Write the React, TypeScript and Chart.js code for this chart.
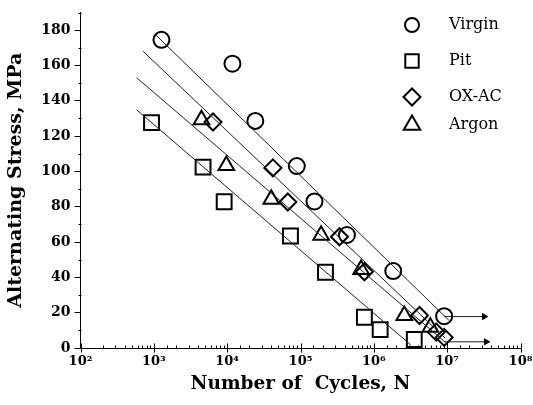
import React, { useEffect, useRef } from "react";
import { Chart, registerables } from "chart.js";
import { drawPoint } from "chart.js/helpers";

Chart.register(...registerables);

// ---- data ----
const virginX = [1270, 11800, 24200, 89000, 155000, 430000, 1840000, 9100000];
const virginY = [174.5, 161, 128.6, 103, 83, 64, 43.6, 18];

const pitX = [930, 4690, 9100, 73000, 219000, 743000, 1220000, 3560000];
const pitY = [127.6, 102.4, 82.8, 63.4, 42.9, 17.4, 10.4, 4.8];

const oxacX = [6410, 42000, 67200, 340000, 743000, 4200000, 7100000, 9100000];
const oxacY = [128, 102, 82.7, 63, 43.2, 18.4, 9, 6];

const argonX = [4460, 9750, 39900, 191000, 670000, 2600000, 5900000];
const argonY = [129.3, 103.3, 84.3, 63.9, 44.4, 18.4, 11.7];

// fitted lines (end points)
const fitVirginX = [1064, 10600000];
const fitVirginY = [177.3, 15.6];
const fitOxacX = [715, 9400000];
const fitOxacY = [168, 5.6];
const fitArgonX = [582, 9400000];
const fitArgonY = [153.1, 3.3];
const fitPitX = [582, 3200000];
const fitPitY = [134.9, 1.7];

// run-out arrows
const arrowUpperX = [9100000, 32000000];
const arrowUpperY = [17.8, 17.8];
const arrowLowerX = [9100000, 34000000];
const arrowLowerY = [3.5, 3.5];

// axes
const xTickValues = [1e2, 1e3, 1e4, 1e5, 1e6, 1e7, 1e8];
const xTickLabels = ["10\u00b2", "10\u00b3", "10\u2074", "10\u2075", "10\u2076", "10\u2077", "10\u2078"];
const yTickValues = [0, 20, 40, 60, 80, 100, 120, 140, 160, 180];
const yMinorValues = [10, 30, 50, 70, 90, 110, 130, 150, 170, 190];

const seriesLabels = ["Virgin", "Pit", "OX-AC", "Argon"];
const xTitle = "Number of  Cycles, N";
const yTitle = "Alternating Stress, MPa";

const SERIF = "'DejaVu Serif', serif";

const pts = (xs: number[], ys: number[]) => xs.map((x, i) => ({ x, y: ys[i] }));

const isDecade = (v: number) => {
  const l = Math.log10(v);
  return Math.abs(l - Math.round(l)) < 1e-6;
};

const axisTicksPlugin = {
  id: "axisTicks",
  afterDraw(chart: any) {
    const { ctx, chartArea } = chart;
    const xs = chart.scales.x;
    const ys = chart.scales.y;
    ctx.save();
    ctx.strokeStyle = "#000";
    ctx.lineWidth = 1;
    ctx.beginPath();
    const by = Math.round(chartArea.bottom) + 0.5;
    for (const t of xs.ticks) {
      const px = Math.round(xs.getPixelForValue(t.value)) + 0.5;
      const major = isDecade(t.value);
      ctx.moveTo(px, major ? by + 4 : by);
      ctx.lineTo(px, major ? by - 5 : by - 3);
    }
    const lx = Math.round(chartArea.left) + 0.5;
    for (const v of yMinorValues) {
      const py = Math.round(ys.getPixelForValue(v)) + 0.5;
      ctx.moveTo(lx, py);
      ctx.lineTo(lx - 3, py);
    }
    ctx.stroke();
    ctx.restore();
  },
};

const LEGEND_MARK_X = 412;
const LEGEND_TEXT_X = 449;
const LEGEND_Y = [25, 61, 97, 125];

const legendPlugin = {
  id: "sketchLegend",
  afterDraw(chart: any) {
    const { ctx } = chart;
    const items = chart.data.datasets.filter((d: any) => d.inLegend);
    ctx.save();
    items.forEach((d: any, i: number) => {
      const y = LEGEND_Y[i];
      ctx.strokeStyle = "#000";
      ctx.fillStyle = "rgba(0,0,0,0)";
      ctx.lineWidth = 2;
      drawPoint(
        ctx,
        { pointStyle: d.pointStyle, radius: d.legendRadius, rotation: 0, borderWidth: 2 },
        LEGEND_MARK_X,
        y
      );
      ctx.fillStyle = "#000";
      ctx.font = `16px ${SERIF}`;
      ctx.textBaseline = "middle";
      ctx.textAlign = "left";
      ctx.fillText(d.label, LEGEND_TEXT_X, y);
    });
    ctx.restore();
  },
};

const markerDataset = (label: string, xs: number[], ys: number[], style: string, r: number, lr: number) => ({
  label,
  data: pts(xs, ys),
  pointStyle: style,
  pointRadius: r,
  legendRadius: lr,
  inLegend: true,
  pointBorderWidth: 2,
  pointBorderColor: "#000",
  pointBackgroundColor: "rgba(0,0,0,0)",
  showLine: false,
});

const lineDataset = (xs: number[], ys: number[]) => ({
  label: "fit",
  data: pts(xs, ys),
  showLine: true,
  borderColor: "#222",
  borderWidth: 1,
  pointRadius: 0,
});

const arrowDataset = (xs: number[], ys: number[]) => ({
  label: "arrow",
  data: pts(xs, ys),
  showLine: true,
  borderColor: "#222",
  borderWidth: 1,
  pointStyle: "triangle",
  pointRotation: 90,
  pointRadius: [0, 3.5],
  pointBorderWidth: 1,
  pointBorderColor: "#000",
  pointBackgroundColor: "#000",
});

export default function App() {
  const ref = useRef<HTMLCanvasElement>(null);

  useEffect(() => {
    const canvas = ref.current;
    if (!canvas) return;
    const chart = new Chart(canvas, {
      type: "scatter",
      data: {
        datasets: [
          lineDataset(fitVirginX, fitVirginY),
          lineDataset(fitOxacX, fitOxacY),
          lineDataset(fitArgonX, fitArgonY),
          lineDataset(fitPitX, fitPitY),
          arrowDataset(arrowUpperX, arrowUpperY),
          arrowDataset(arrowLowerX, arrowLowerY),
          markerDataset(seriesLabels[0], virginX, virginY, "circle", 8, 7),
          markerDataset(seriesLabels[1], pitX, pitY, "rect", 10.5, 9.5),
          markerDataset(seriesLabels[2], oxacX, oxacY, "rectRot", 8.5, 8.5),
          markerDataset(seriesLabels[3], argonX, argonY, "triangle", 9, 9.5),
        ] as any,
      },
      options: {
        responsive: false,
        animation: false,
        devicePixelRatio: 1,
        layout: { padding: { top: 6, right: 11.5, left: 0, bottom: 0 } },
        plugins: {
          legend: { display: false },
          tooltip: { enabled: false },
        },
        scales: {
          x: {
            type: "logarithmic",
            position: "bottom",
            min: 1e2,
            max: 1e8,
            grid: { display: true, drawOnChartArea: false, drawTicks: false },
            border: { display: true, color: "#000", width: 1 },
            ticks: {
              autoSkip: false,
              maxRotation: 0,
              minRotation: 0,
              padding: 6,
              color: "#000",
              font: { family: SERIF, size: 13, weight: "bold" },
              callback: (v: any) => {
                const idx = xTickValues.findIndex((t) => Math.abs(Math.log10(t) - Math.log10(Number(v))) < 1e-6);
                return idx >= 0 ? xTickLabels[idx] : "";
              },
            },
            title: {
              display: true,
              text: xTitle,
              color: "#000",
              font: { family: SERIF, size: 18.5, weight: "bold" },
              padding: { top: 0, bottom: 10 },
            },
            afterFit: (s: any) => {
              s.height = 57;
              s.paddingLeft = 0;
              s.paddingRight = 0;
            },
          } as any,
          y: {
            type: "linear",
            min: 0,
            max: 190,
            grid: { display: true, drawOnChartArea: false, drawTicks: true, tickLength: 6, color: "#000" },
            border: { display: true, color: "#000", width: 1 },
            ticks: {
              padding: 4,
              color: "#000",
              font: { family: SERIF, size: 14, weight: "bold" },
            },
            afterBuildTicks: (s: any) => {
              s.ticks = yTickValues.map((v) => ({ value: v }));
            },
            title: {
              display: true,
              text: yTitle,
              color: "#000",
              font: { family: SERIF, size: 19, weight: "bold" },
              padding: { top: 5, bottom: 0 },
            },
            afterFit: (s: any) => {
              s.width = 80.5;
              s.paddingTop = 0;
              s.paddingBottom = 0;
            },
          } as any,
        },
      },
      plugins: [axisTicksPlugin, legendPlugin],
    });
    return () => chart.destroy();
  }, []);

  return (
    <div style={{ position: "fixed", left: 0, top: 0, width: 533, height: 405, background: "#fff" }}>
      <canvas ref={ref} width={533} height={405} style={{ display: "block" }} />
    </div>
  );
}
